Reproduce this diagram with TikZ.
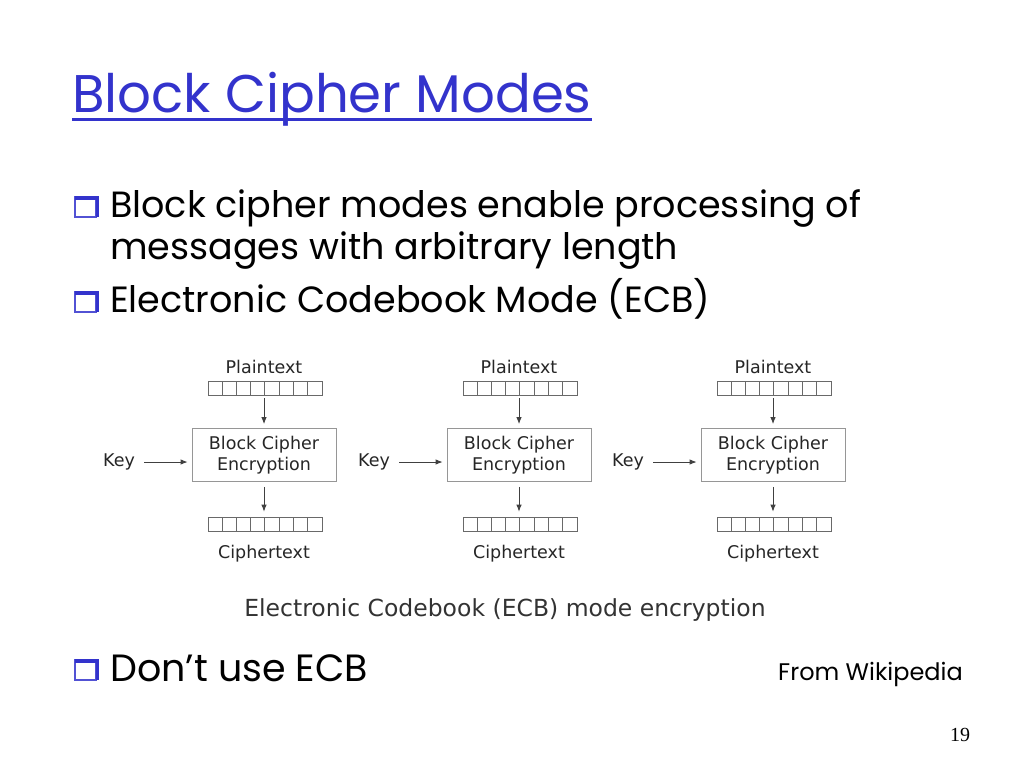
\documentclass[tikz,border=0pt]{standalone}
\usepackage{fontspec}
\setmainfont{Poppins}
\newfontfamily\diagfont{DejaVu Sans}
\newfontfamily\pagefont{Liberation Serif}
\usepackage{xcolor}
\usetikzlibrary{arrows.meta,positioning}

\definecolor{slideblue}{RGB}{51,51,204}
\definecolor{cellgray}{RGB}{105,105,105}
\definecolor{boxgray}{RGB}{150,150,150}

\tikzset{
  slidetext/.style={anchor=base west, inner sep=0pt, font=\fontsize{36.5}{42}\selectfont},
  lbl/.style={inner sep=0pt, text=black!85, font=\diagfont\fontsize{17.5}{20}\selectfont},
  cellstrip/.style={draw=cellgray, line width=0.7pt, minimum width=114pt, minimum height=14pt, inner sep=0pt},
  cipherbox/.style={draw=boxgray, line width=0.8pt, minimum width=144pt, minimum height=53pt,
    align=center, text=black!85, font=\diagfont\fontsize{17.5}{21}\selectfont},
  flow/.style={draw=black!75, line width=0.9pt, -{Latex[length=7pt,width=5.5pt]}},
}

% 3d square bullet, top left corner at #1,#2
\newcommand{\bulletat}[2]{%
  \draw[slideblue!85, line width=1.4pt] (#1,#2) rectangle (#1+21,#2+20);
  \draw[slideblue, line width=3.5pt] (#1,#2+1) -- (#1+22.5,#2+1) -- (#1+22.5,#2+20);
}

\begin{document}
\begin{tikzpicture}[x=1pt,y=-1pt]
  \useasboundingbox (0,0) rectangle (1024,768);
  \fill[white] (0,0) rectangle (1024,768);

  % title
  \node[anchor=base west, inner sep=0pt, text=slideblue, font=\fontsize{53}{60}\selectfont]
    (title) at (72,112) {Block Cipher Modes};
  \draw[slideblue, line width=3pt] ([yshift=-7pt]title.base west) -- ([yshift=-7pt]title.base east);

  % bullets
  \bulletat{75}{197}
  \node[slidetext] (line1) at (110,217) {Block cipher modes enable processing of};
  \node[slidetext] (line2) at (110,259) {messages with arbitrary length};
  \bulletat{75}{292}
  \node[slidetext] (line3) at (110,312) {Electronic Codebook Mode (ECB)};
  \bulletat{75}{660}
  \node[slidetext, font=\fontsize{38}{42}\selectfont] (line4) at (110,681) {Don’t use ECB};
  \node[anchor=base west, inner sep=0pt, font=\fontsize{24}{30}\selectfont]
    (source) at (778,680) {From Wikipedia};
  \node[inner sep=0pt, font=\pagefont\fontsize{20}{24}\selectfont] (page) at (960,735) {19};

  % three ecb blocks
  \foreach \i/\x in {1/264,2/519,3/773} {
    \node[lbl] (plain\i) at (\x,367) {Plaintext};
    \node[cellstrip] (pcells\i) at (\x+1,388) {};
    \node[cipherbox] (enc\i) at (\x,455) {Block Cipher\\Encryption};
    \node[cellstrip] (ccells\i) at (\x+1,524) {};
    \node[lbl] (cipher\i) at (\x,554) {Ciphertext};
    \node[lbl] (key\i) at (\x-145,462) {Key};
    \foreach \k in {1,...,7} {
      \draw[cellgray, line width=0.7pt] ([xshift=\k*14.25pt]pcells\i.south west) -- ([xshift=\k*14.25pt]pcells\i.north west);
      \draw[cellgray, line width=0.7pt] ([xshift=\k*14.25pt]ccells\i.south west) -- ([xshift=\k*14.25pt]ccells\i.north west);
    }
    \draw[flow, shorten <=3pt, shorten >=4pt] (pcells\i.south -| enc\i) -- (enc\i.north);
    \draw[flow, shorten <=5pt, shorten >=5pt] (enc\i.south) -- (ccells\i.north -| enc\i);
    \draw[flow, shorten <=9pt, shorten >=4pt] (key\i.east) -- (key\i.east -| enc\i.west);
  }

  % caption
  \node[inner sep=0pt, text=black!80, font=\diagfont\fontsize{23.5}{26}\selectfont]
    (caption) at (505,610) {Electronic Codebook (ECB) mode encryption};
\end{tikzpicture}
\end{document}
